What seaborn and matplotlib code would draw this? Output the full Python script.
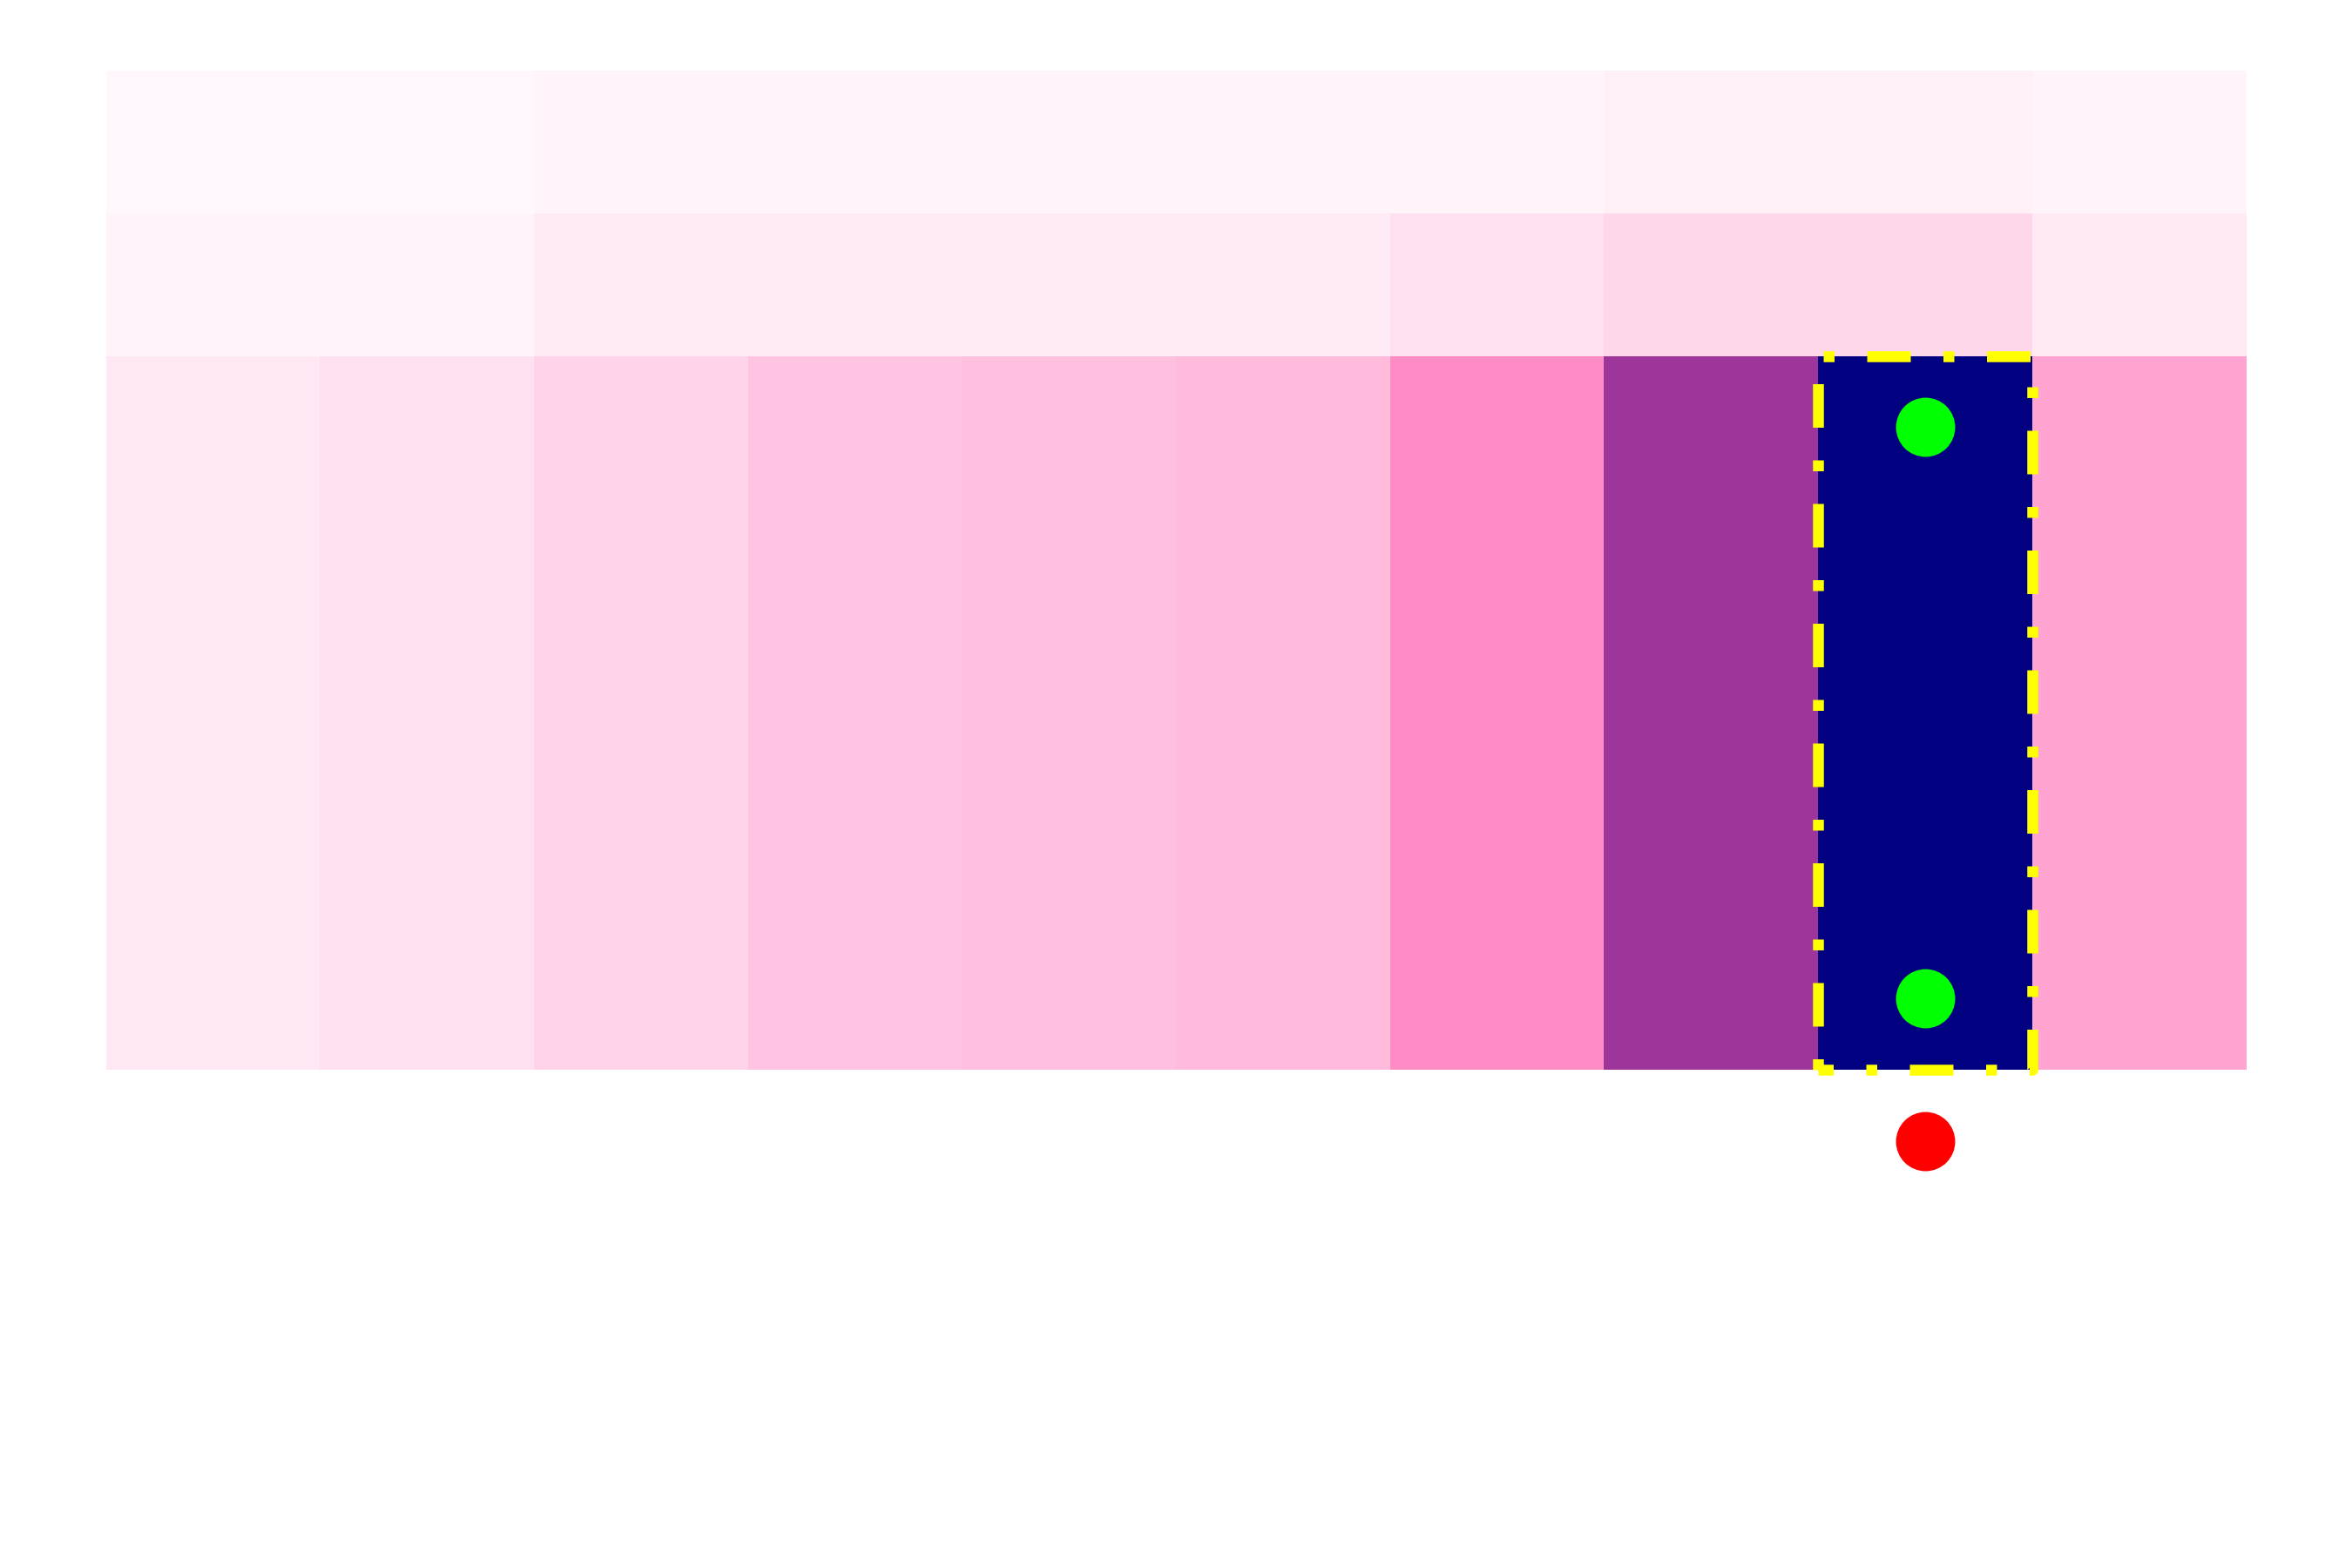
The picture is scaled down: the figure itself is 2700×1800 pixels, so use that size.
import numpy as np
import pandas as pd
import matplotlib
matplotlib.use("Agg")
import matplotlib.pyplot as plt
import seaborn as sns
from matplotlib.colors import LinearSegmentedColormap

# cell values (0 = white, 1 = navy)
row_0 = [0.025, 0.025, 0.033, 0.033, 0.033, 0.033, 0.033, 0.045, 0.045, 0.035]
row_1 = [0.035, 0.035, 0.060, 0.060, 0.060, 0.060, 0.090, 0.120, 0.120, 0.065]
row_mid = [0.070, 0.092, 0.125, 0.175, 0.185, 0.205, 0.340, 0.690, 1.000, 0.270]
row_empty = [0.0] * 10

grid = [row_0, row_1, row_mid, row_mid, row_mid, row_mid, row_mid,
        row_empty, row_empty, row_empty]

# highlighted column and rows
box_col = 8
box_rows = (2, 7)
green_cols = [8, 8]
green_rows = [2, 6]
red_cols = [8]
red_rows = [7]

data = pd.DataFrame(np.array(grid))

cmap = LinearSegmentedColormap.from_list("pinknavy", ["#ffffff", "#ff55aa", "#000080"])

fig = plt.figure(figsize=(9, 6), dpi=300)
ax = fig.add_axes([0.045, 0.045, 0.91, 0.91])

sns.heatmap(data, cmap=cmap, vmin=0, vmax=1, cbar=False,
            xticklabels=False, yticklabels=False, ax=ax)

# dashed box round the highlighted cells
c = box_col
r0, r1 = box_rows
ax.plot([c, c, c + 1, c + 1, c], [r1, r0, r0, r1, r1],
        color="yellow", lw=3, linestyle=(0, (1, 3, 4, 3)), zorder=3)

# markers at cell centres
ax.plot(np.array(green_cols) + 0.5, np.array(green_rows) + 0.5, "o",
        color="#00ff00", ms=16.3, mec="none", zorder=4)
ax.plot(np.array(red_cols) + 0.5, np.array(red_rows) + 0.5, "o",
        color="red", ms=16.3, mec="none", zorder=4)

ax.set_xlabel("")
ax.set_ylabel("")

plt.savefig("out.png", dpi=300)
plt.close()
